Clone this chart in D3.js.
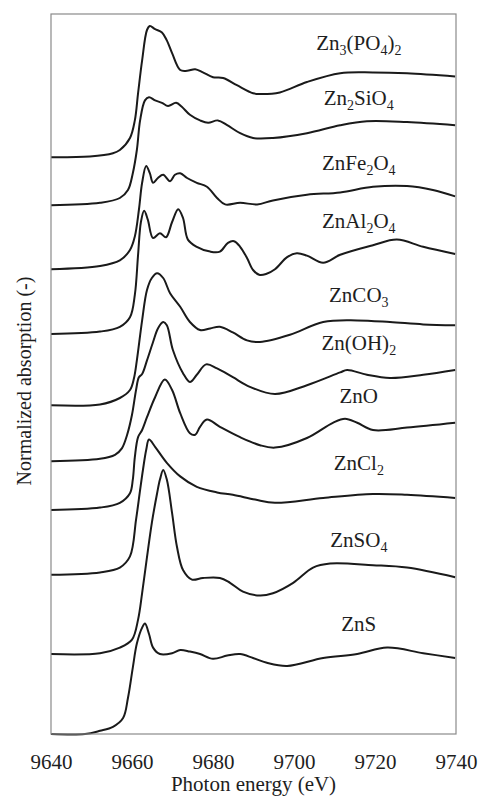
<!DOCTYPE html>
<html>
<head>
<meta charset="utf-8">
<script src="https://cdn.jsdelivr.net/npm/d3@7"></script>
<style>
body { margin: 0; background: #fff; }
</style>
</head>
<body>
<div id="chart"></div>
<script>
/* Data */

var names = ["Zn3(PO4)2", "Zn2SiO4", "ZnFe2O4", "ZnAl2O4", "ZnCO3", "Zn(OH)2", "ZnO", "ZnCl2", "ZnSO4", "ZnS"];
var offsets = [7.21, 6.61, 5.81, 5.0, 4.11, 3.41, 2.8, 1.99, 1.0, 0.0]; // vertical stacking
var xTicks = [9640, 9660, 9680, 9700, 9720, 9740];
var labelE = 9716;
var labelY = [8.55, 7.86, 7.05, 6.33, 5.40, 4.80, 4.14, 3.30, 2.34, 1.29];

var energy = [
	[9640, 9649.6, 9655.3, 9657.0, 9659.5, 9660.7, 9661.5, 9662.5, 9663.7, 9664.4, 9665.7, 9667.4, 9668.6, 9669.9, 9671.9, 9673.6, 9675.6, 9677.5, 9680.0, 9682.5, 9685.9, 9689.9, 9691.6, 9696.5, 9703.2, 9711.4, 9719.5, 9727.9, 9739.8],
	[9640, 9652.1, 9657.0, 9659.0, 9660.2, 9661.2, 9662.0, 9663.2, 9664.2, 9665.7, 9667.4, 9668.9, 9670.9, 9672.3, 9674.3, 9676.8, 9678.8, 9681.2, 9683.5, 9686.7, 9689.9, 9694.8, 9703.2, 9711.4, 9718.0, 9727.9, 9739.8],
	[9640, 9652.1, 9657.0, 9659.5, 9660.7, 9661.7, 9662.5, 9663.5, 9664.4, 9665.2, 9666.4, 9667.7, 9669.4, 9670.6, 9671.9, 9673.6, 9676.0, 9678.5, 9681.0, 9683.0, 9686.7, 9690.9, 9694.8, 9703.2, 9711.4, 9719.5, 9727.9, 9734.3, 9739.8],
	[9640, 9652.1, 9657.0, 9659.5, 9660.7, 9661.5, 9662.2, 9663.0, 9663.9, 9665.2, 9666.9, 9668.4, 9669.9, 9671.4, 9672.6, 9673.8, 9676.0, 9679.3, 9681.7, 9683.7, 9685.2, 9686.7, 9688.4, 9689.9, 9691.4, 9693.1, 9695.3, 9698.3, 9700.7, 9703.2, 9707.2, 9711.4, 9719.5, 9725.4, 9731.9, 9739.8],
	[9640, 9652.1, 9657.0, 9659.5, 9660.5, 9661.2, 9662.5, 9663.7, 9664.9, 9666.2, 9667.7, 9669.4, 9671.9, 9674.3, 9676.8, 9679.3, 9681.7, 9684.9, 9688.4, 9691.6, 9699.0, 9707.2, 9715.6, 9723.7, 9731.9, 9739.8],
	[9640, 9652.1, 9655.8, 9657.5, 9658.8, 9660.0, 9661.0, 9661.7, 9662.5, 9663.7, 9665.2, 9666.4, 9667.7, 9668.6, 9670.1, 9672.6, 9674.3, 9676.0, 9678.3, 9681.0, 9684.9, 9689.1, 9695.3, 9703.2, 9711.4, 9713.1, 9718.0, 9723.7, 9731.9, 9739.8],
	[9640, 9652.1, 9657.0, 9659.5, 9660.2, 9660.7, 9661.5, 9662.5, 9663.7, 9665.7, 9668.1, 9669.9, 9671.9, 9674.3, 9675.6, 9676.8, 9678.5, 9681.7, 9686.7, 9691.6, 9695.3, 9703.2, 9709.6, 9712.6, 9715.6, 9719.5, 9727.9, 9739.8],
	[9640, 9652.1, 9657.0, 9659.5, 9661.0, 9662.0, 9662.7, 9663.5, 9664.2, 9665.7, 9668.6, 9671.9, 9676.0, 9681.0, 9684.9, 9690.4, 9695.3, 9707.2, 9719.5, 9727.9, 9739.8],
	[9640, 9652.1, 9657.0, 9660.0, 9661.5, 9662.5, 9663.7, 9664.9, 9666.2, 9666.9, 9667.7, 9668.6, 9669.9, 9671.1, 9672.6, 9674.8, 9677.5, 9681.7, 9684.2, 9687.4, 9691.6, 9694.8, 9699.8, 9704.7, 9708.9, 9719.5, 9727.9, 9739.8],
	[9640, 9648.4, 9652.1, 9655.3, 9657.8, 9659.0, 9660.2, 9661.2, 9662.5, 9663.2, 9664.2, 9665.2, 9666.9, 9669.9, 9671.9, 9674.3, 9676.8, 9680.0, 9683.5, 9686.7, 9689.9, 9693.3, 9698.3, 9707.2, 9715.6, 9723.0, 9731.9, 9739.8]
];

var absorption = [
	[0, 0.01, 0.05, 0.09, 0.24, 0.46, 0.80, 1.21, 1.59, 1.64, 1.60, 1.56, 1.46, 1.30, 1.09, 1.08, 1.10, 1.06, 1.00, 0.99, 0.90, 0.80, 0.79, 0.81, 0.94, 1.05, 1.06, 1.05, 1.01],
	[0, 0.03, 0.09, 0.19, 0.40, 0.69, 1.06, 1.31, 1.35, 1.31, 1.28, 1.24, 1.28, 1.23, 1.13, 1.06, 1.03, 1.06, 1.00, 0.90, 0.84, 0.84, 0.90, 1.00, 1.05, 1.04, 1.00],
	[0, 0.04, 0.11, 0.24, 0.41, 0.74, 1.08, 1.29, 1.20, 1.08, 1.14, 1.18, 1.10, 1.18, 1.20, 1.14, 1.08, 1.03, 0.89, 0.81, 0.83, 0.81, 0.86, 0.93, 0.96, 1.03, 1.04, 0.99, 0.91],
	[0, 0.03, 0.09, 0.21, 0.49, 0.99, 1.40, 1.54, 1.43, 1.20, 1.26, 1.21, 1.40, 1.56, 1.45, 1.18, 1.09, 1.03, 1.03, 1.14, 1.16, 1.09, 0.95, 0.80, 0.74, 0.75, 0.81, 0.96, 1.01, 0.98, 0.89, 0.99, 1.11, 1.18, 1.09, 1.00],
	[0, 0.01, 0.09, 0.19, 0.34, 0.56, 1.06, 1.44, 1.59, 1.65, 1.59, 1.40, 1.23, 1.04, 0.94, 0.96, 0.98, 0.91, 0.81, 0.79, 0.88, 1.04, 1.06, 1.04, 1.01, 1.00],
	[0, 0.03, 0.08, 0.16, 0.33, 0.58, 0.89, 1.05, 1.09, 1.26, 1.49, 1.66, 1.74, 1.70, 1.39, 1.10, 0.99, 1.08, 1.21, 1.16, 1.05, 0.93, 0.84, 0.95, 1.11, 1.14, 1.08, 1.04, 1.08, 1.14],
	[0, 0.03, 0.09, 0.21, 0.38, 0.66, 0.91, 1.00, 1.16, 1.41, 1.63, 1.50, 1.21, 0.96, 0.94, 1.04, 1.13, 1.04, 0.91, 0.81, 0.78, 0.90, 1.09, 1.14, 1.09, 1.00, 1.03, 1.09],
	[0, 0.03, 0.09, 0.23, 0.69, 1.06, 1.31, 1.56, 1.69, 1.60, 1.40, 1.23, 1.10, 1.03, 1.00, 0.94, 0.90, 0.96, 1.01, 1.00, 0.96],
	[0, 0.01, 0.08, 0.18, 0.43, 0.76, 1.21, 1.64, 2.01, 2.18, 2.30, 2.18, 1.76, 1.34, 1.05, 0.93, 0.95, 0.95, 0.89, 0.78, 0.73, 0.76, 0.89, 1.08, 1.13, 1.11, 1.08, 0.96],
	[0, 0, 0.04, 0.09, 0.20, 0.45, 0.83, 1.13, 1.33, 1.38, 1.25, 1.08, 1.00, 1.01, 1.05, 1.03, 1.00, 0.94, 0.98, 1.00, 0.95, 0.89, 0.85, 0.95, 1.00, 1.08, 1.01, 0.95]
];

/* Chart */

var width = 480,
	height = 796,
	margin = {top: 15, right: 24, bottom: 62, left: 51};
var serif = "'Liberation Serif'";

var svg = d3.select("#chart").append("svg")
	.attr("width", width)
	.attr("height", height);

var x = d3.scaleLinear().domain([9640, 9740]).range([margin.left, width - margin.right]);
var y = d3.scaleLinear().domain([0, 9]).range([height - margin.bottom, margin.top - 1]);

var line = d3.line()
	.x(function(d) { return x(d[0]); })
	.y(function(d) { return y(d[1]); })
	.curve(d3.curveCatmullRom.alpha(0.5));

var series = names.map(function(n, i) {
	return energy[i].map(function(e, j) { return [e, absorption[i][j] + offsets[i]]; });
});

svg.append("g").selectAll("path")
	.data(series)
	.enter().append("path")
	.attr("d", line)
	.attr("fill", "none")
	.attr("stroke", "#1a1a1a")
	.attr("stroke-width", 2)
	.attr("stroke-linejoin", "round");

// frame
svg.append("rect")
	.attr("x", x(9640))
	.attr("y", y(9))
	.attr("width", x(9740) - x(9640))
	.attr("height", y(0) - y(9))
	.attr("fill", "none")
	.attr("stroke", "#8a8a8a")
	.attr("stroke-width", 1.2);

// x axis, labels only
var xAxis = d3.axisBottom(x).tickValues(xTicks).tickSize(0).tickPadding(20).tickFormat(d3.format("d"));
var gx = svg.append("g")
	.attr("transform", "translate(0," + y(0) + ")")
	.call(xAxis)
	.attr("font-family", null)
	.attr("font-size", null);
gx.select(".domain").remove();
gx.selectAll("text")
	.style("font-family", serif)
	.style("font-size", "21px")
	.attr("fill", "#1e1e1e");

svg.append("text")
	.attr("x", (x(9640) + x(9740)) / 2)
	.attr("y", 791)
	.attr("text-anchor", "middle")
	.style("font-family", serif)
	.style("font-size", "21px")
	.attr("fill", "#1e1e1e")
	.text("Photon energy (eV)");

svg.append("text")
	.attr("transform", "translate(31," + 381 + ") rotate(-90)")
	.attr("text-anchor", "middle")
	.style("font-family", serif)
	.style("font-size", "20px")
	.attr("fill", "#1e1e1e")
	.text("Normalized  absorption (-)");

// formula labels with subscript digits
var labels = svg.append("g").selectAll("text")
	.data(names)
	.enter().append("text")
	.attr("x", x(labelE))
	.attr("y", function(d, i) { return y(labelY[i]); })
	.attr("text-anchor", "middle")
	.style("font-family", serif)
	.style("font-size", "21px")
	.attr("fill", "#1e1e1e");

labels.each(function(d) {
	var t = d3.select(this);
	var parts = d.match(/\d+|\D+/g);
	var low = false;
	parts.forEach(function(p) {
		var isSub = /\d/.test(p);
		var ts = t.append("tspan").text(p);
		if (isSub) {
			ts.style("font-size", "14px").attr("dy", low ? 0 : 5);
			low = true;
		} else {
			if (low) ts.attr("dy", -5);
			low = false;
		}
	});
});
</script>
</body>
</html>
